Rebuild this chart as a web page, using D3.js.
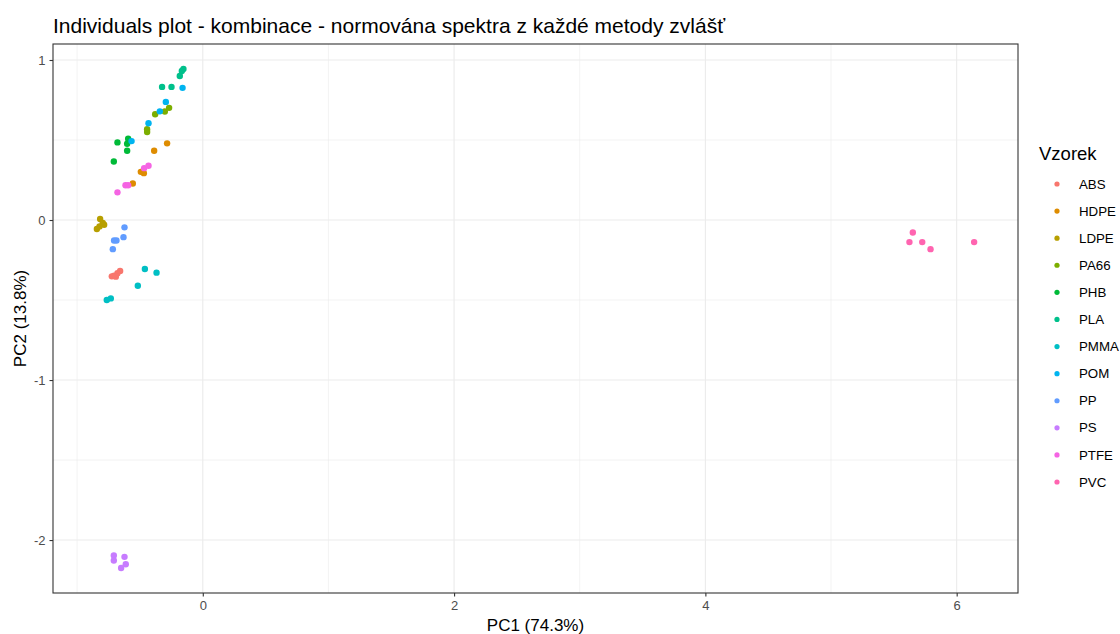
<!DOCTYPE html>
<html>
<head>
<meta charset="utf-8">
<script src="https://cdn.jsdelivr.net/npm/d3@7"></script>
<style>
  html, body { margin: 0; padding: 0; background: #fff; }
  svg { display: block; font-family: "Liberation Sans", Arial, sans-serif; }
</style>
</head>
<body>
<svg id="chart" width="1120" height="634"></svg>
<script>
// Sample groups, in legend order
const samples = ["ABS", "HDPE", "LDPE", "PA66", "PHB", "PLA", "PMMA", "POM", "PP", "PS", "PTFE", "PVC"];
const sampleColors = ["#F8766D", "#DE8C00", "#B79F00", "#7CAE00", "#00BA38", "#00C08B",
                      "#00BFC4", "#00B4F0", "#619CFF", "#C77CFF", "#F564E3", "#FF64B0"];

// PCA scores (PC1, PC2) of each replicate, per sample
const pc1 = {
  ABS:  [-0.658, -0.679, -0.706, -0.724, -0.692],
  HDPE: [-0.284, -0.387, -0.493, -0.469, -0.557],
  LDPE: [-0.817, -0.796, -0.785, -0.822, -0.843],
  PA66: [-0.379, -0.302, -0.268, -0.443, -0.443],
  PHB:  [-0.679, -0.594, -0.602, -0.602, -0.708],
  PLA:  [-0.154, -0.183, -0.324, -0.249, -0.167],
  PMMA: [-0.461, -0.368, -0.517, -0.732, -0.764],
  POM:  [-0.161, -0.294, -0.342, -0.432, -0.567],
  PP:   [-0.623, -0.631, -0.706, -0.687, -0.716],
  PS:   [-0.708, -0.708, -0.623, -0.613, -0.650],
  PTFE: [-0.467, -0.432, -0.615, -0.594, -0.679],
  PVC:  [5.651, 5.624, 5.726, 5.792, 6.139]
};
const pc2 = {
  ABS:  [-0.318, -0.333, -0.348, -0.352, -0.354],
  HDPE: [0.479, 0.433, 0.301, 0.293, 0.228],
  LDPE: [0.006, -0.019, -0.030, -0.040, -0.056],
  PA66: [0.661, 0.678, 0.701, 0.567, 0.550],
  PHB:  [0.485, 0.508, 0.477, 0.433, 0.366],
  PLA:  [0.944, 0.900, 0.832, 0.832, 0.931],
  PMMA: [-0.306, -0.329, -0.411, -0.490, -0.500],
  POM:  [0.826, 0.738, 0.679, 0.605, 0.493],
  PP:   [-0.046, -0.107, -0.128, -0.128, -0.182],
  PS:   [-2.097, -2.128, -2.105, -2.151, -2.175],
  PTFE: [0.324, 0.339, 0.217, 0.217, 0.173],
  PVC:  [-0.078, -0.138, -0.138, -0.182, -0.138]
};

const xTicks = [0, 2, 4, 6];
const xMinor = [-1, 1, 3, 5];
const yTicks = [1, 0, -1, -2];
const yMinor = [0.5, -0.5, -1.5];

const titleText = "Individuals plot - kombinace - normována spektra z každé metody zvlášť";
const xTitle = "PC1 (74.3%)";
const yTitle = "PC2 (13.8%)";
const legendTitle = "Vzorek";

// Flatten to point records
const points = [];
samples.forEach(s => pc1[s].forEach((v, i) => points.push({ sample: s, x: v, y: pc2[s][i] })));

const svg = d3.select("#chart");
const panel = { left: 53, right: 1018, top: 44, bottom: 593 };

// Data range with 5% expansion on each side
const xExt = d3.extent(points, d => d.x), yExt = d3.extent(points, d => d.y);
const xPad = (xExt[1] - xExt[0]) * 0.05, yPad = (yExt[1] - yExt[0]) * 0.05;
const x = d3.scaleLinear().domain([xExt[0] - xPad, xExt[1] + xPad]).range([panel.left, panel.right]);
const y = d3.scaleLinear().domain([yExt[0] - yPad, yExt[1] + yPad]).range([panel.bottom, panel.top]);
const color = d3.scaleOrdinal().domain(samples).range(sampleColors);

// Grid
const grid = svg.append("g");
grid.selectAll(".xminor").data(xMinor).join("line")
  .attr("x1", d => x(d)).attr("x2", d => x(d)).attr("y1", panel.top).attr("y2", panel.bottom)
  .attr("stroke", "#EBEBEB").attr("stroke-width", 0.6);
grid.selectAll(".yminor").data(yMinor).join("line")
  .attr("y1", d => y(d)).attr("y2", d => y(d)).attr("x1", panel.left).attr("x2", panel.right)
  .attr("stroke", "#EBEBEB").attr("stroke-width", 0.6);
grid.selectAll(".xmajor").data(xTicks).join("line")
  .attr("x1", d => x(d)).attr("x2", d => x(d)).attr("y1", panel.top).attr("y2", panel.bottom)
  .attr("stroke", "#EBEBEB").attr("stroke-width", 1.1);
grid.selectAll(".ymajor").data(yTicks).join("line")
  .attr("y1", d => y(d)).attr("y2", d => y(d)).attr("x1", panel.left).attr("x2", panel.right)
  .attr("stroke", "#EBEBEB").attr("stroke-width", 1.1);

// Points
svg.append("g").selectAll("circle").data(points).join("circle")
  .attr("cx", d => x(d.x)).attr("cy", d => y(d.y)).attr("r", 3.2)
  .attr("fill", d => color(d.sample));

// Panel border
svg.append("rect")
  .attr("x", panel.left).attr("y", panel.top)
  .attr("width", panel.right - panel.left).attr("height", panel.bottom - panel.top)
  .attr("fill", "none").attr("stroke", "#333333").attr("stroke-width", 1.1);

// Axes
const fmt = d => String(d);
const xAxis = svg.append("g").attr("transform", `translate(0,${panel.bottom})`)
  .call(d3.axisBottom(x).tickValues(xTicks).tickSize(3.5).tickPadding(4).tickFormat(fmt));
const yAxis = svg.append("g").attr("transform", `translate(${panel.left},0)`)
  .call(d3.axisLeft(y).tickValues(yTicks).tickSize(3.5).tickPadding(4).tickFormat(fmt));
[xAxis, yAxis].forEach(a => {
  a.select(".domain").remove();
  a.selectAll(".tick line").attr("stroke", "#333333").attr("stroke-width", 1.1);
  a.selectAll(".tick text").attr("fill", "#4D4D4D").style("font-size", "13px")
    .style("font-family", "'Liberation Sans', Arial, sans-serif");
});

// Titles
svg.append("text").attr("x", panel.left).attr("y", 33)
  .attr("font-size", 21).attr("fill", "#000").text(titleText);
svg.append("text").attr("x", (panel.left + panel.right) / 2).attr("y", 631)
  .attr("text-anchor", "middle").attr("font-size", 17).attr("fill", "#000").text(xTitle);
svg.append("text").attr("transform", `translate(26,${(panel.top + panel.bottom) / 2}) rotate(-90)`)
  .attr("text-anchor", "middle").attr("font-size", 17).attr("fill", "#000").text(yTitle);

// Legend
const legend = svg.append("g");
legend.append("text").attr("x", 1039).attr("y", 160).attr("font-size", 18.5).attr("fill", "#000").text(legendTitle);
const ly = d3.scalePoint().domain(samples).range([184, 482]);
const items = legend.selectAll(".item").data(samples).join("g")
  .attr("transform", d => `translate(0,${ly(d)})`);
items.append("circle").attr("cx", 1057).attr("cy", 0).attr("r", 2.6).attr("fill", d => color(d));
items.append("text").attr("x", 1079).attr("y", 0).attr("dy", "0.35em")
  .attr("font-size", 13.3).attr("fill", "#000").text(d => d);
</script>
</body>
</html>
